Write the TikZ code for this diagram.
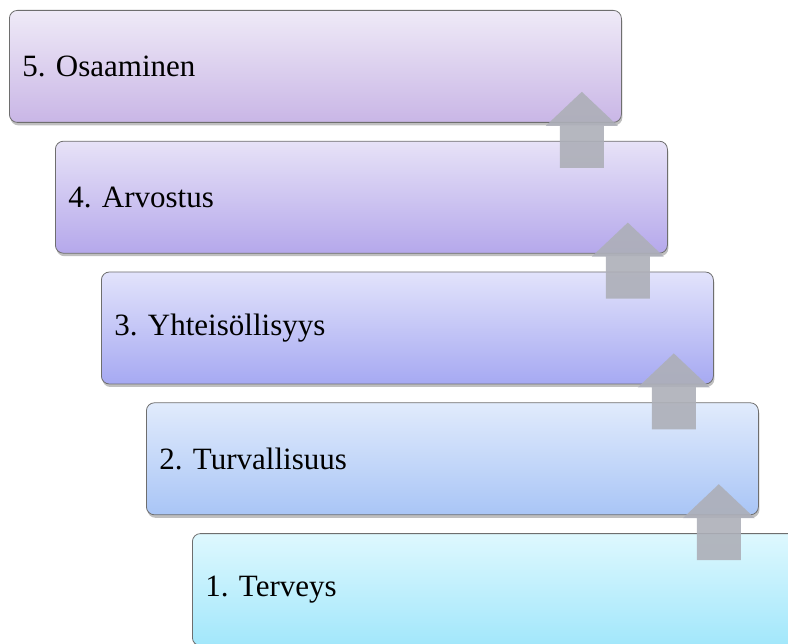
\documentclass[tikz,border=0pt]{standalone}
\usepackage{fontspec}
\setmainfont{Liberation Serif}
\usetikzlibrary{positioning,calc,shadows}
\definecolor{topfive}{HTML}{EFEAF7}
\definecolor{botfive}{HTML}{C9B6E6}
\definecolor{topfour}{HTML}{E7E2F7}
\definecolor{botfour}{HTML}{B5A8EB}
\definecolor{topthree}{HTML}{E2E3FB}
\definecolor{botthree}{HTML}{A6A9F2}
\definecolor{toptwo}{HTML}{E1EBFC}
\definecolor{bottwo}{HTML}{A9C5F6}
\definecolor{topone}{HTML}{DEF8FE}
\definecolor{botone}{HTML}{A2E7FB}
\definecolor{arrowgray}{HTML}{ADAFB8}
\definecolor{edgegray}{HTML}{6E6E6E}

\begin{document}
\frenchspacing
\begin{tikzpicture}[
        x=1pt, y=1pt,
        node distance=18pt,
        every node/.style={font=\fontsize{31}{36}\selectfont},
        level/.style={draw=edgegray, line width=0.8pt, rounded corners=8pt,
          minimum width=612pt, minimum height=112pt, text width=586pt,
          inner sep=13pt, align=left,
          drop shadow={shadow xshift=1pt, shadow yshift=-3pt, fill=black, opacity=0.25}},
        uparr/.style={fill=arrowgray, opacity=0.9}
      ]
        \useasboundingbox (0,0) rectangle (788,-644);
        \clip (0,0) rectangle (788,-644);
        \node[level, top color=topfive, bottom color=botfive, anchor=north west] (b5) at (9,-10) {5. Osaaminen};
        \node[level, top color=topfour, bottom color=botfour, below=of b5, xshift=46pt] (b4) {4. Arvostus};
        \node[level, top color=topthree, bottom color=botthree, below=of b4, xshift=46pt] (b3) {3. Yhteisöllisyys};
        \node[level, top color=toptwo, bottom color=bottwo, below=of b3, xshift=45pt] (b2) {2. Turvallisuus};
        \node[level, top color=topone, bottom color=botone, below=of b2, xshift=46pt] (b1) {1. Terveys};
        % block arrows between the levels
        \foreach \hi/\lo in {b5/b4, b4/b3, b3/b2, b2/b1} {
          \coordinate (tip) at ($(\hi.south east)+(-40,31)$);
          \coordinate (sl) at ($(\hi.south east)+(-62,-3)$);
          \coordinate (sr) at ($(\hi.south east)+(-18,-3)$);
          \coordinate (tail) at ($(\lo.north)+(0,-27)$);
          \fill[uparr] (tip) -- ($(sr)+(14,0)$) -- (sr) -- (sr |- tail)
            -- (sl |- tail) -- (sl) -- ($(sl)+(-14,0)$) -- cycle;
        }
      \end{tikzpicture}
\end{document}
